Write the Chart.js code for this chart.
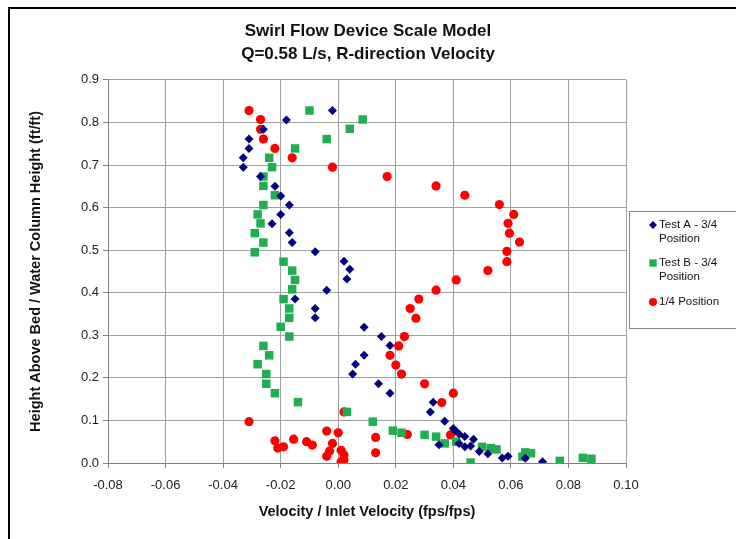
<!DOCTYPE html>
<html>
<head>
<meta charset="utf-8">
<script src="https://cdn.jsdelivr.net/npm/chart.js@4/dist/chart.umd.min.js"></script>
<style>
  html, body { margin: 0; padding: 0; background: #fff; }
  #wrap { position: relative; width: 736px; height: 539px; }
</style>
</head>
<body>
<div id="wrap"><canvas id="c" width="736" height="539"></canvas></div>
<script>
// ---- Data ----
const titleLines = ['Swirl Flow Device Scale Model', 'Q=0.58 L/s, R-direction Velocity'];
const xAxisTitle = 'Velocity / Inlet Velocity (fps/fps)';
const yAxisTitle = 'Height Above Bed / Water Column Height (ft/ft)';
const xTickLabels = ['-0.08', '-0.06', '-0.04', '-0.02', '0.00', '0.02', '0.04', '0.06', '0.08', '0.10'];
const yTickLabels = ['0.0', '0.1', '0.2', '0.3', '0.4', '0.5', '0.6', '0.7', '0.8', '0.9'];
const seriesNames = ['Test A - 3/4 Position', 'Test B - 3/4 Position', '1/4 Position'];
const legendLines = [['Test A - 3/4', 'Position'], ['Test B - 3/4', 'Position'], ['1/4 Position']];

const testAX = [-0.002, -0.018, -0.026, -0.031, -0.031, -0.033, -0.033, -0.027, -0.022, -0.020, -0.017, -0.020, -0.023, -0.017, -0.016, -0.008, 0.002, 0.004, 0.003, -0.004, -0.015, -0.008, -0.008, 0.009, 0.015, 0.018, 0.009, 0.006, 0.005, 0.014, 0.018, 0.033, 0.032, 0.037, 0.040, 0.041, 0.042, 0.044, 0.047, 0.035, 0.042, 0.044, 0.046, 0.049, 0.052, 0.057, 0.059, 0.065, 0.071];
const testAY = [0.828, 0.806, 0.784, 0.761, 0.739, 0.717, 0.695, 0.673, 0.650, 0.627, 0.606, 0.584, 0.562, 0.541, 0.518, 0.496, 0.474, 0.455, 0.432, 0.406, 0.385, 0.363, 0.341, 0.319, 0.297, 0.276, 0.253, 0.232, 0.209, 0.186, 0.164, 0.143, 0.120, 0.098, 0.081, 0.074, 0.068, 0.062, 0.056, 0.043, 0.046, 0.038, 0.040, 0.027, 0.022, 0.012, 0.016, 0.011, 0.003];

const testBX = [-0.010, 0.0085, 0.004, -0.004, -0.015, -0.024, -0.023, -0.026, -0.026, -0.022, -0.026, -0.028, -0.027, -0.029, -0.026, -0.029, -0.019, -0.016, -0.015, -0.016, -0.019, -0.017, -0.017, -0.020, -0.017, -0.026, -0.024, -0.028, -0.025, -0.025, -0.022, -0.014, 0.003, 0.012, 0.019, 0.022, 0.030, 0.034, 0.037, 0.041, 0.046, 0.050, 0.053, 0.055, 0.065, 0.067, 0.064, 0.077, 0.085, 0.088];
const testBY = [0.828, 0.807, 0.785, 0.761, 0.739, 0.717, 0.695, 0.673, 0.651, 0.629, 0.606, 0.584, 0.563, 0.540, 0.518, 0.495, 0.473, 0.452, 0.430, 0.408, 0.385, 0.363, 0.341, 0.320, 0.297, 0.275, 0.253, 0.232, 0.209, 0.186, 0.164, 0.143, 0.120, 0.097, 0.076, 0.071, 0.066, 0.062, 0.046, 0.050, 0.001, 0.038, 0.035, 0.032, 0.025, 0.023, 0.015, 0.005, 0.012, 0.010];

const quarterX = [-0.031, -0.027, -0.027, -0.026, -0.022, -0.016, -0.002, 0.017, 0.034, 0.044, 0.056, 0.061, 0.059, 0.0595, 0.063, 0.0586, 0.0586, 0.052, 0.041, 0.034, 0.028, 0.025, 0.027, 0.023, 0.021, 0.018, 0.020, 0.022, 0.030, 0.040, 0.036, 0.002, -0.031, 0.000, -0.004, 0.013, 0.024, 0.039, 0.013, -0.022, -0.021, -0.019, -0.0155, -0.011, -0.009, -0.002, -0.003, -0.004, 0.001, 0.002, 0.002, 0.001];
const quarterY = [0.828, 0.807, 0.784, 0.761, 0.739, 0.717, 0.695, 0.673, 0.651, 0.629, 0.607, 0.584, 0.563, 0.540, 0.519, 0.497, 0.473, 0.452, 0.430, 0.406, 0.385, 0.363, 0.340, 0.297, 0.275, 0.253, 0.230, 0.209, 0.186, 0.164, 0.142, 0.120, 0.097, 0.071, 0.075, 0.060, 0.067, 0.066, 0.024, 0.052, 0.035, 0.038, 0.056, 0.050, 0.042, 0.046, 0.028, 0.016, 0.030, 0.019, 0.007, 0.003];

function pts(xs, ys) { return xs.map((x, i) => ({ x: x, y: ys[i] })); }

const FONT = "'Liberation Sans', Arial, sans-serif";
const colors = ['#000080', '#1fae50', '#ff0000'];
const styles = ['rectRot', 'rect', 'circle'];
const radii = [4.5, 6, 4.6];

const datasets = [
  { label: seriesNames[0], data: pts(testAX, testAY) },
  { label: seriesNames[1], data: pts(testBX, testBY) },
  { label: seriesNames[2], data: pts(quarterX, quarterY) }
].map((d, i) => Object.assign(d, {
  backgroundColor: colors[i], borderColor: colors[i], borderWidth: 0,
  pointStyle: styles[i], pointRadius: radii[i], pointHoverRadius: radii[i], showLine: false
}));

const framePlugin = {
  id: 'frame',
  beforeDraw(chart) {
    const ctx = chart.ctx;
    ctx.save();
    ctx.fillStyle = '#fff';
    ctx.fillRect(0, 0, chart.width, chart.height);
    ctx.restore();
  },
  afterDraw(chart) {
    const ctx = chart.ctx;
    ctx.save();
    // outer frame
    ctx.strokeStyle = '#000';
    ctx.lineWidth = 2;
    ctx.strokeRect(9, 8, 800, 800);
    // legend box
    const lx = 629, ly = 211, lw = 130, lh = 117;
    ctx.strokeStyle = '#888';
    ctx.lineWidth = 1;
    ctx.strokeRect(lx + 0.5, ly + 0.5, lw, lh);
    const rows = [225, 263, 302];
    ctx.font = '11.5px ' + FONT;
    ctx.textBaseline = 'middle';
    ctx.textAlign = 'left';
    legendLines.forEach((lines, i) => {
      ctx.fillStyle = colors[i];
      ctx.strokeStyle = colors[i];
      Chart.helpers.drawPoint(ctx, { pointStyle: styles[i], radius: i === 1 ? 5.2 : 4, borderWidth: 0 }, 653, rows[i]);
      ctx.fillStyle = '#111';
      lines.forEach((t, k) => ctx.fillText(t, 659, rows[i] + k * 14));
    });
    ctx.restore();
  }
};

new Chart(document.getElementById('c'), {
  type: 'scatter',
  data: { datasets: datasets },
  options: {
    responsive: false,
    animation: false,
    events: [],
    layout: { padding: { left: 8, right: 8, top: 0, bottom: 0 } },
    plugins: {
      legend: { display: false },
      tooltip: { enabled: false },
      title: {
        display: true,
        text: titleLines,
        color: '#111',
        font: { family: FONT, size: 17, weight: 'bold', lineHeight: 1.35 },
        padding: { top: 20, bottom: 14 }
      }
    },
    scales: {
      x: {
        type: 'linear', min: -0.08, max: 0.10,
        afterBuildTicks(scale) {
          scale.ticks = xTickLabels.map(v => ({ value: parseFloat(v) }));
        },
        afterFit(scale) { scale.height = 76; },
        ticks: {
          callback: (v, i) => xTickLabels[i],
          color: '#222', font: { family: FONT, size: 13 }, padding: 10, maxRotation: 0, autoSkip: false
        },
        grid: { color: '#a0a0a0', lineWidth: 1, tickLength: 5, tickColor: '#808080' },
        border: { color: '#808080', width: 1 },
        title: { display: true, text: xAxisTitle, color: '#111', font: { family: FONT, size: 14.5, weight: 'bold' }, padding: { top: 0, bottom: 18 } }
      },
      y: {
        type: 'linear', min: 0, max: 0.9,
        afterBuildTicks(scale) {
          scale.ticks = yTickLabels.map(v => ({ value: parseFloat(v) }));
        },
        afterFit(scale) { scale.width = 100; },
        ticks: {
          callback: (v, i) => yTickLabels[i],
          color: '#222', font: { family: FONT, size: 13 }, padding: 4, autoSkip: false
        },
        grid: { color: '#a0a0a0', lineWidth: 1, tickLength: 5, tickColor: '#808080' },
        border: { color: '#808080', width: 1 },
        title: { display: true, text: yAxisTitle, color: '#111', font: { family: FONT, size: 14.5, weight: 'bold' }, padding: { top: 19, bottom: 0 } }
      },
      yLegendSpace: {
        type: 'linear', position: 'right', min: 0, max: 1,
        afterFit(scale) { scale.width = 102; },
        ticks: { display: false },
        grid: { display: false, drawTicks: false },
        border: { display: false }
      }
    }
  },
  plugins: [framePlugin]
});
</script>
</body>
</html>
